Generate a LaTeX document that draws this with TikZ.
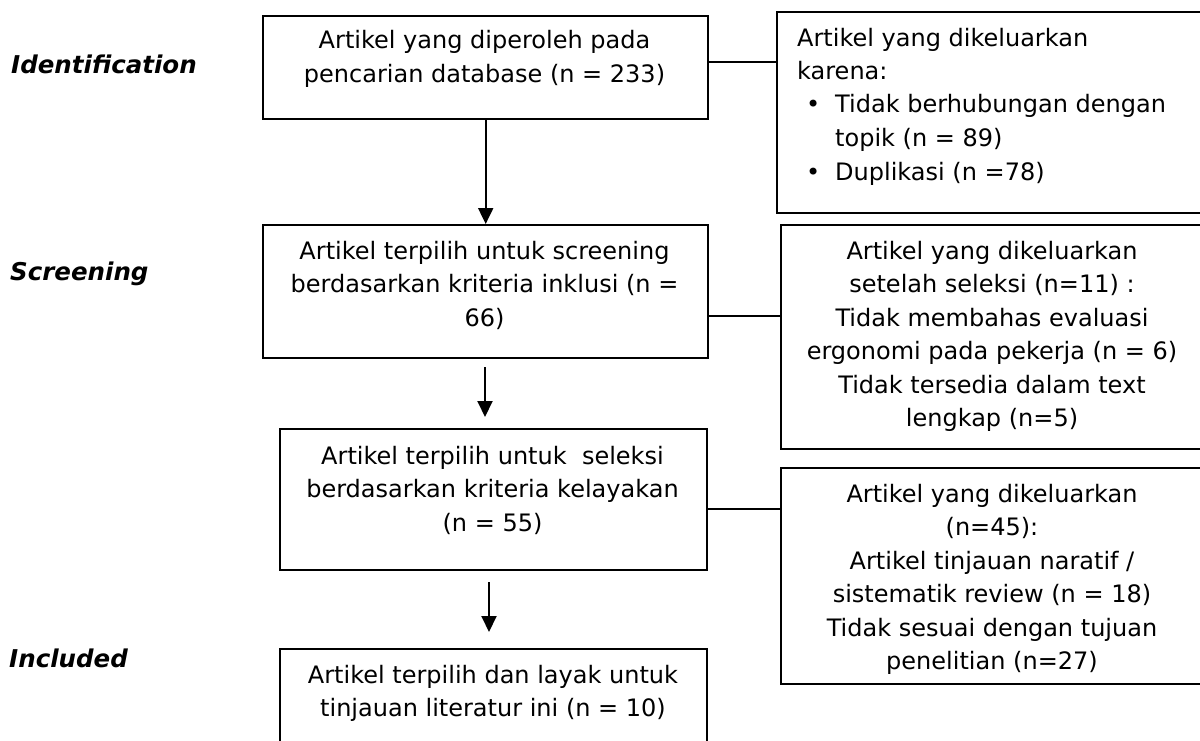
\documentclass[tikz,border=0pt]{standalone}
\usepackage{fontspec}
\setmainfont{DejaVu Sans}
\usetikzlibrary{arrows.meta}
\begin{document}
\begin{tikzpicture}[x=1pt,y=-1pt,
  box/.style={draw=black,line width=2.4pt,rectangle,inner sep=0pt,anchor=north west},
  txt/.style={inner sep=0pt,anchor=base,align=center,font=\fontsize{24}{33.5}\selectfont},
  txtl/.style={inner sep=0pt,anchor=base west,align=left,font=\fontsize{24}{33.5}\selectfont},
  stage/.style={inner sep=0pt,anchor=base west,font=\fontsize{24.5}{28}\selectfont\bfseries\itshape},
  conn/.style={draw=black,line width=2.4pt},
  arr/.style={draw=black,line width=2pt,-{Triangle[width=15pt,length=16pt]}}]
\useasboundingbox (0,0) rectangle (1200,741);
\fill[white] (0,0) rectangle (1200,741);
\clip (0,0) rectangle (1200,741);
% left boxes
\node[box,minimum width=445pt,minimum height=103pt] (B1) at (262,15) {};
\node[box,minimum width=445pt,minimum height=133pt] (B2) at (262,224) {};
\node[box,minimum width=427pt,minimum height=141pt] (B3) at (279,428) {};
\node[box,minimum width=427pt,minimum height=130pt] (B4) at (279,648) {};
% right boxes
\node[box,minimum width=450pt,minimum height=201pt] (R1) at (776,11) {};
\node[box,minimum width=430pt,minimum height=224pt] (R2) at (780,224) {};
\node[box,minimum width=430pt,minimum height=216pt] (R3) at (780,467) {};
% texts (base anchor = baseline of last line)
\node[txt] (T1) at (484.5,82.5) {Artikel yang diperoleh pada\\pencarian database (n = 233)};
\node[txt] (T2) at (484.5,326) {Artikel terpilih untuk screening\\berdasarkan kriteria inklusi (n =\\66)};
\node[txt] (T3) at (492.5,531) {Artikel terpilih untuk\ \ seleksi\\berdasarkan kriteria kelayakan\\(n = 55)};
\node[txt] (T4) at (493,716.5) {Artikel terpilih dan layak untuk\\tinjauan literatur ini (n = 10)};
\node[txtl] (TR1) at (797,180) {Artikel yang dikeluarkan\\karena:\\\makebox[38pt][l]{\hspace{9pt}•}Tidak berhubungan dengan\\\hspace*{38pt}topik (n = 89)\\\makebox[38pt][l]{\hspace{9pt}•}Duplikasi (n =78)};
\node[txt] (TR2) at (992,426.5) {Artikel yang dikeluarkan\\setelah seleksi (n=11) :\\Tidak membahas evaluasi\\ergonomi pada pekerja (n = 6)\\Tidak tersedia dalam text\\lengkap (n=5)};
\node[txt] (TR3) at (992,669.5) {Artikel yang dikeluarkan\\(n=45):\\Artikel tinjauan naratif /\\sistematik review (n = 18)\\Tidak sesuai dengan tujuan\\penelitian (n=27)};
% stage labels
\node[stage] (S1) at (11,74) {Identification};
\node[stage] (S2) at (10,280) {Screening};
\node[stage] (S3) at (9,667) {Included};
% connectors
\coordinate (c1) at (0,62);
\coordinate (c2) at (0,316);
\coordinate (c3) at (0,509);
\draw[conn] (B1.east |- c1) -- (R1.west |- c1);
\draw[conn] (B2.east |- c2) -- (R2.west |- c2);
\draw[conn] (B3.east |- c3) -- (R3.west |- c3);
% arrows
\coordinate (a2s) at (485,367);
\coordinate (a2e) at (485,417);
\coordinate (a3s) at (489,582);
\coordinate (a3e) at (489,632);
\draw[arr] (B1.south) -- (B2.north);
\draw[arr] (a2s) -- (a2e);
\draw[arr] (a3s) -- (a3e);
\end{tikzpicture}
\end{document}
